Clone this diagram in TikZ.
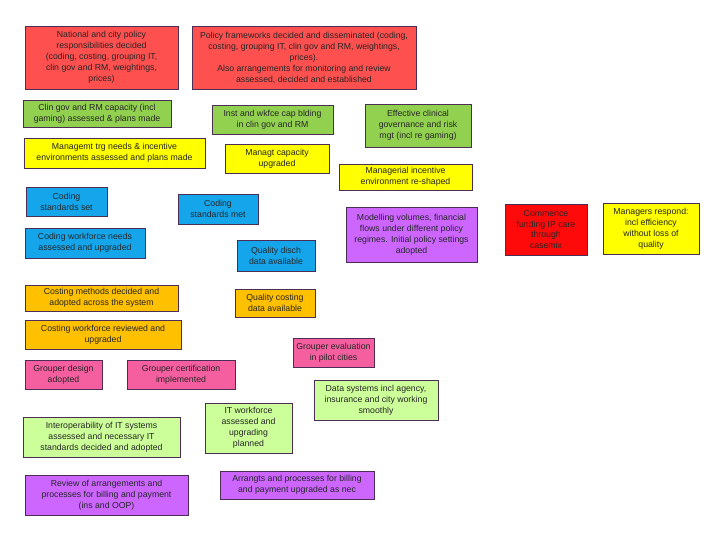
\documentclass[tikz,border=0pt]{standalone}
\usepackage{fontspec}
\setmainfont{Liberation Sans}

\definecolor{softred}{RGB}{255,80,80}
\definecolor{leafgreen}{RGB}{146,208,80}
\definecolor{paleleaf}{RGB}{204,255,153}
\definecolor{signyellow}{RGB}{255,255,0}
\definecolor{skyblue}{RGB}{20,165,235}
\definecolor{amber}{RGB}{255,192,0}
\definecolor{rosepink}{RGB}{245,95,160}
\definecolor{lilac}{RGB}{204,102,255}
\definecolor{hardred}{RGB}{255,10,10}
\definecolor{boxline}{RGB}{75,45,85}

\tikzset{
  card/.style={draw=boxline, line width=0.7pt, inner sep=0pt, align=center,
    text=black!85, font=\fontsize{6.2}{7.8}\selectfont},
  boxsize/.style 2 args={minimum width=#1*0.025cm, minimum height=#2*0.025cm}
}

\begin{document}
\begin{tikzpicture}[x=0.025cm,y=-0.025cm]
\fill[white] (0,0) rectangle (720,540);
\useasboundingbox (0,0) rectangle (720,540);

% policy
\node[card, fill=softred, boxsize={153}{63}] (natpol) at (101.5,57.5) {National and city policy\\responsibilities decided\\(coding, costing, grouping IT,\\clin gov and RM, weightings,\\prices)};
\node[card, fill=softred, boxsize={224}{63}] (polfw) at (304,57.5) {Policy frameworks decided and disseminated (coding,\\costing, grouping IT, clin gov and RM, weightings,\\prices).\\Also arrangements for monitoring and review\\assessed, decided and established};

% clinical governance
\node[card, fill=leafgreen, boxsize={148}{27}] (clincap) at (97,113.5) {Clin gov and RM capacity (incl\\gaming) assessed \& plans made};
\node[card, fill=leafgreen, boxsize={121}{29}] (instcap) at (272.5,119.5) {Inst and wkfce cap blding\\in clin gov and RM};
\node[card, fill=leafgreen, boxsize={106}{43}] (effgov) at (418,125.5) {Effective clinical\\governance and risk\\mgt (incl re gaming)};

% management
\node[card, fill=signyellow, boxsize={181}{30}] (mgtrg) at (114.5,153) {Managemt trg needs \& incentive\\environments assessed and plans made};
\node[card, fill=signyellow, boxsize={104}{29}] (mgtcap) at (277,158.5) {Managt capacity\\upgraded};
\node[card, fill=signyellow, boxsize={133}{26}] (mgtenv) at (405.5,177) {Managerial incentive\\environment re-shaped};

% coding
\node[card, fill=skyblue, boxsize={81}{29}] (codset) at (66.5,201.5) {Coding\\standards set};
\node[card, fill=skyblue, boxsize={80}{30}] (codmet) at (218,209) {Coding\\standards met};
\node[card, fill=skyblue, boxsize={120}{30}] (codwf) at (85,243) {Coding workforce needs\\assessed and upgraded};
\node[card, fill=skyblue, boxsize={78}{31}] (qdisch) at (276,255.5) {Quality disch\\data available};

% modelling and payment
\node[card, fill=lilac, boxsize={131}{55}] (modvol) at (411.5,234.5) {Modelling volumes, financial\\flows under different policy\\regimes. Initial policy settings\\adopted};
\node[card, fill=hardred, boxsize={82}{51}] (casemix) at (546,229.5) {Commence\\funding IP care\\through\\casemix};
\node[card, fill=signyellow, boxsize={96}{51}] (mgresp) at (651,228.5) {Managers respond:\\incl efficiency\\without loss of\\quality};

% costing
\node[card, fill=amber, boxsize={153}{26}] (costmeth) at (101.5,298) {Costing methods decided and\\adopted across the system};
\node[card, fill=amber, boxsize={80}{28}] (qcost) at (275,303) {Quality costing\\data available};
\node[card, fill=amber, boxsize={156}{29}] (costwf) at (103,334.5) {Costing workforce reviewed and\\upgraded};

% grouper
\node[card, fill=rosepink, boxsize={81}{29}] (grpeval) at (333.5,352.5) {Grouper evaluation\\in pilot cities};
\node[card, fill=rosepink, boxsize={77}{29}] (grpdes) at (63.5,374.5) {Grouper design\\adopted};
\node[card, fill=rosepink, boxsize={108}{29}] (grpcert) at (181,374.5) {Grouper certification\\implemented};

% IT
\node[card, fill=paleleaf, boxsize={124}{40}] (datasys) at (376,400) {Data systems incl agency,\\insurance and city working\\smoothly};
\node[card, fill=paleleaf, boxsize={87}{50}] (itwf) at (248.5,428) {IT workforce\\assessed and\\upgrading\\planned};
\node[card, fill=paleleaf, boxsize={157}{40}] (interop) at (101.5,437) {Interoperability of IT systems\\assessed and necessary IT\\standards decided and adopted};

% billing
\node[card, fill=lilac, boxsize={163}{40}] (review) at (106.5,495) {Review of arrangements and\\processes for billing and payment\\(ins and OOP)};
\node[card, fill=lilac, boxsize={154}{28}] (arrbill) at (297,485) {Arrangts and processes for billing\\and payment upgraded as nec};
\end{tikzpicture}
\end{document}
